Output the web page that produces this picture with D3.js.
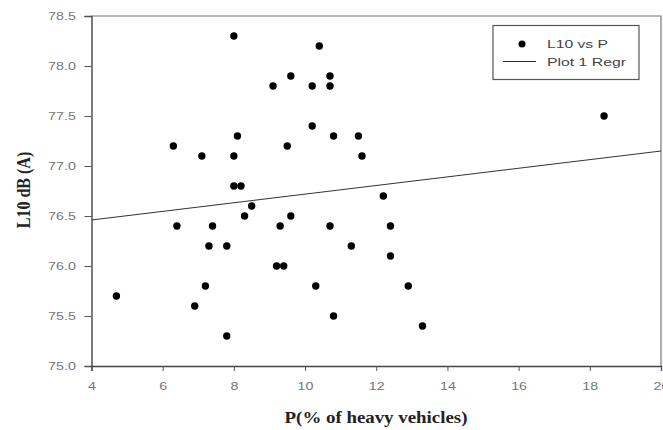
<!DOCTYPE html>
<html lang="en">
<head>
    <meta charset="UTF-8">
    <title>L10 vs P</title>
    <script src="https://d3js.org/d3.v7.min.js"></script>
    <style>
        body {margin: 0; background: #fff;}
        .tick text {
            font-family: "Liberation Sans", Arial, sans-serif;
            font-size: 11px;
            fill: #777;
        }
        .title {
            font-family: "Liberation Serif", "Times New Roman", serif;
            font-weight: bold;
            font-size: 16px;
            fill: #222;
        }
        .legend text {
            font-family: "Liberation Sans", Arial, sans-serif;
            font-size: 11.5px;
            fill: #444;
        }
    </style>
</head>
<body>
<script>
    const width = 663;
    const height = 430;

    // L10 vs P points
    const pValues   = [4.7, 6.3, 6.4, 6.9, 7.1, 7.2, 7.3, 7.4, 7.8, 7.8, 8.0, 8.0, 8.1, 8.0, 8.2, 8.3, 8.5,
                       9.1, 9.2, 9.4, 9.3, 9.5, 9.6, 9.6, 10.2, 10.2, 10.3, 10.4, 10.7, 10.7, 10.7,
                       10.8, 10.8, 11.3, 11.5, 11.6, 12.2, 12.4, 12.4, 12.9, 13.3, 18.4];
    const l10Values = [75.7, 77.2, 76.4, 75.6, 77.1, 75.8, 76.2, 76.4, 76.2, 75.3, 78.3, 77.1, 77.3, 76.8, 76.8, 76.5, 76.6,
                       77.8, 76.0, 76.0, 76.4, 77.2, 77.9, 76.5, 77.8, 77.4, 75.8, 78.2, 77.9, 77.8, 76.4,
                       77.3, 75.5, 76.2, 77.3, 77.1, 76.7, 76.4, 76.1, 75.8, 75.4, 77.5];

    // Plot 1 Regr (end points)
    const regrX = [4, 20];
    const regrY = [76.46, 77.15];

    const xTicks = [4, 6, 8, 10, 12, 14, 16, 18, 20];
    const yTicks = [75.0, 75.5, 76.0, 76.5, 77.0, 77.5, 78.0, 78.5];

    const margin = {left: 91.5, top: 16, right: 2, bottom: 64};
    const stretch = 1.3;   // the source lettering is wide

    const svg = d3.select("body").append("svg")
            .attr("width", width).attr("height", height);

    const x = d3.scaleLinear().domain([4, 20]).range([margin.left, width - margin.right]);
    const y = d3.scaleLinear().domain([75, 78.5]).range([height - margin.bottom, margin.top]);

    // frame (top and right)
    svg.append("path")
            .attr("d", `M${x(4)},${y(78.5)}H${x(20)}V${y(75)}`)
            .style("fill", "none")
            .style("stroke", "#777")
            .style("stroke-width", 1.2);

    const xAxis = svg.append("g")
            .attr("transform", `translate(0,${y(75)})`)
            .call(d3.axisBottom(x).tickValues(xTicks).tickFormat(d3.format("d")).tickSize(5).tickPadding(11));

    const yAxis = svg.append("g")
            .attr("transform", `translate(${x(4)},0)`)
            .call(d3.axisLeft(y).tickValues(yTicks).tickFormat(d3.format(".1f")).tickSize(7).tickPadding(5));

    [xAxis, yAxis].forEach(a => {
        a.select(".domain").style("stroke", "#444").style("stroke-width", 1.4);
        a.selectAll(".tick line").style("stroke", "#555");
        a.selectAll(".tick text").attr("transform", `scale(${stretch},1)`);
    });

    // regression line, clipped to plot
    svg.append("clipPath").attr("id", "plot")
            .append("rect")
            .attr("x", x(4)).attr("y", y(78.5))
            .attr("width", x(20) - x(4)).attr("height", y(75) - y(78.5));

    svg.append("line")
            .attr("clip-path", "url(#plot)")
            .attr("x1", x(regrX[0])).attr("y1", y(regrY[0]))
            .attr("x2", x(regrX[1])).attr("y2", y(regrY[1]))
            .style("stroke", "#333")
            .style("stroke-width", 1);

    svg.append("g").selectAll("circle")
            .data(d3.range(pValues.length))
            .enter()
            .append("circle")
            .attr("cx", i => x(pValues[i]))
            .attr("cy", i => y(l10Values[i]))
            .attr("r", 3.7)
            .style("fill", "#000");

    // legend
    const legend = svg.append("g").attr("class", "legend");
    legend.append("rect")
            .attr("x", 493).attr("y", 25.5)
            .attr("width", 146).attr("height", 54)
            .style("fill", "#fff")
            .style("stroke", "#555")
            .style("stroke-width", 1.2);
    legend.append("circle")
            .attr("cx", 522).attr("cy", 44).attr("r", 3.5)
            .style("fill", "#000");
    legend.append("text").attr("x", 547).attr("y", 48)
            .attr("textLength", 61).attr("lengthAdjust", "spacingAndGlyphs")
            .text("L10 vs P");
    legend.append("line")
            .attr("x1", 503).attr("x2", 536).attr("y1", 61.5).attr("y2", 61.5)
            .style("stroke", "#333");
    legend.append("text").attr("x", 547).attr("y", 65.5)
            .attr("textLength", 79).attr("lengthAdjust", "spacingAndGlyphs")
            .text("Plot 1 Regr");

    // axis titles
    svg.append("text").attr("class", "title")
            .attr("text-anchor", "middle")
            .attr("transform", "translate(376,423) scale(1.18,1)")
            .text("P(% of heavy vehicles)");

    svg.append("text").attr("class", "title")
            .attr("text-anchor", "middle")
            .attr("font-size", "15px")
            .attr("transform", "translate(29.5,190) scale(1.18,1) rotate(-90)")
            .text("L10 dB (A)");
</script>
</body>
</html>
